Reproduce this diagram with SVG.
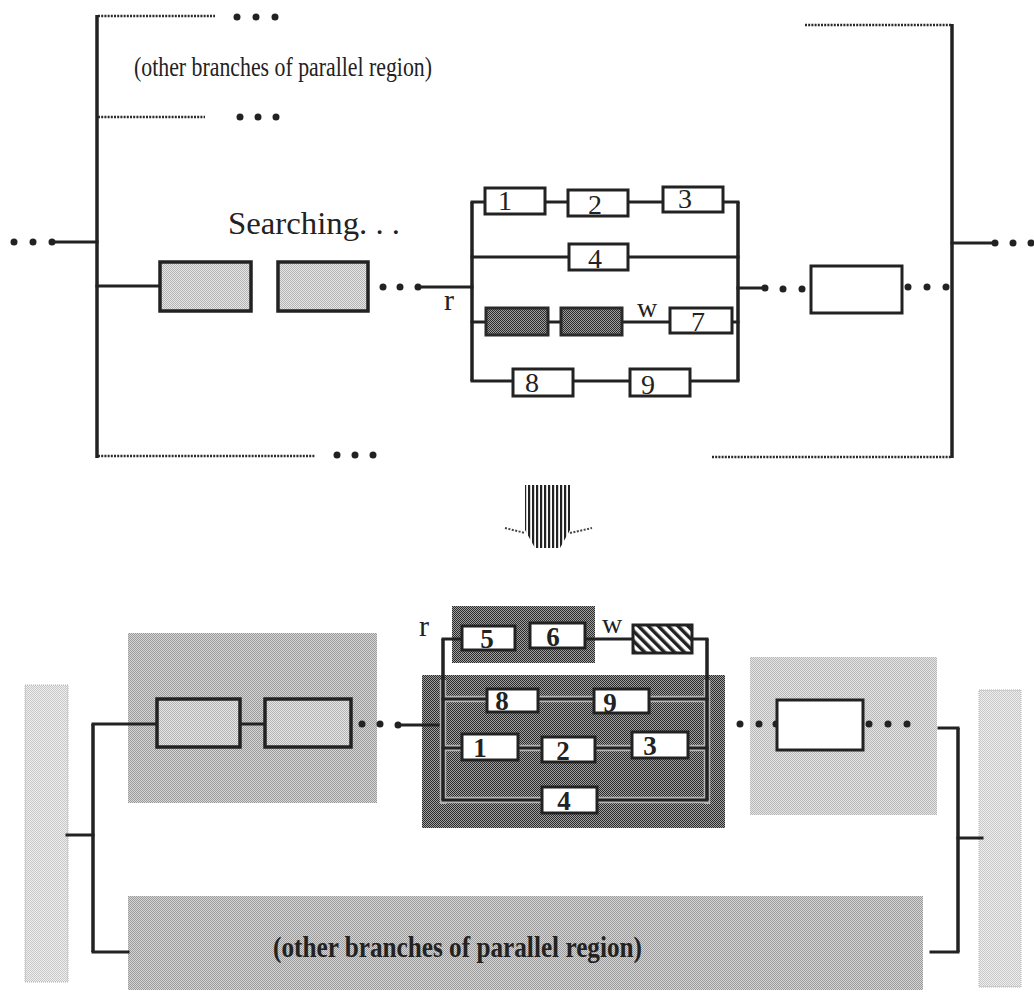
<svg xmlns="http://www.w3.org/2000/svg" width="1034" height="992" viewBox="0 0 1034 992">
<defs>
<pattern id="pDark" width="2" height="2" patternUnits="userSpaceOnUse"><rect width="2" height="2" fill="#a0a0a0"/><rect width="1" height="1" fill="#2a2a2a"/><rect x="1" y="1" width="1" height="1" fill="#2a2a2a"/></pattern>
<pattern id="pMed" width="2" height="2" patternUnits="userSpaceOnUse"><rect width="2" height="2" fill="#d6d6d6"/><rect width="1" height="1" fill="#9a9a9a"/><rect x="1" y="1" width="1" height="1" fill="#9a9a9a"/></pattern>
<pattern id="pMedL" width="2" height="2" patternUnits="userSpaceOnUse"><rect width="2" height="2" fill="#e4e4e4"/><rect width="1" height="1" fill="#b8b8b8"/><rect x="1" y="1" width="1" height="1" fill="#b8b8b8"/></pattern>
<pattern id="pLight" width="2" height="2" patternUnits="userSpaceOnUse"><rect width="2" height="2" fill="#eeeeee"/><rect width="1" height="1" fill="#c8c8c8"/><rect x="1" y="1" width="1" height="1" fill="#c8c8c8"/></pattern>
<pattern id="pBox" width="2" height="2" patternUnits="userSpaceOnUse"><rect width="2" height="2" fill="#e6e6e6"/><rect width="1" height="1" fill="#b4b4b4"/><rect x="1" y="1" width="1" height="1" fill="#b4b4b4"/></pattern>
<pattern id="pHatch" width="7" height="7" patternUnits="userSpaceOnUse" patternTransform="rotate(-45)"><rect width="7" height="7" fill="#ffffff"/><rect width="3.5" height="7" fill="#222"/></pattern>
<pattern id="pStripe" width="4" height="4" patternUnits="userSpaceOnUse"><rect width="4" height="4" fill="#ffffff"/><rect width="2.2" height="4" fill="#222"/></pattern>
<style>
.ln{stroke:#222;stroke-width:3;fill:none;stroke-linecap:square}
.bar{stroke:#222;stroke-width:3.5;fill:none}
.halo{stroke:#b4b4b4;stroke-width:6.5;fill:none}
.dot{stroke:#2a2a2a;stroke-width:2.5;stroke-dasharray:2 1.2;fill:none}
.bd{fill:#222}
.box{fill:#fff;stroke:#222;stroke-width:3}
.gbox{fill:url(#pBox);stroke:#222;stroke-width:3.5}
.dbox{fill:url(#pDark);stroke:#2a2a2a;stroke-width:3}
.num{font-family:"Liberation Serif","Times New Roman",serif;font-size:28px;fill:#222;text-anchor:middle}
.numb{font-family:"Liberation Serif","Times New Roman",serif;font-size:27px;font-weight:bold;fill:#222;text-anchor:middle}
.lbl{font-family:"Liberation Serif","Times New Roman",serif;fill:#222}
</style>
</defs>
<rect width="1034" height="992" fill="#fff"/>

<!-- ===== TOP: regions / frames ===== -->
<g id="top-frame-left">
<line class="bar" x1="97" y1="15" x2="97" y2="458"/>
<line class="dot" x1="98" y1="16" x2="215" y2="16"/>
<line class="dot" x1="98" y1="117" x2="205" y2="117"/>
<line class="dot" x1="98" y1="456" x2="315" y2="456"/>
</g>
<g id="top-frame-right">
<line class="bar" x1="952" y1="24" x2="952" y2="458"/>
<line class="dot" x1="805" y1="25" x2="951" y2="25"/>
<line class="dot" x1="712" y1="457" x2="951" y2="457"/>
</g>
<g id="top-other-branches-label">
<text class="lbl" x="134" y="76" font-size="28" textLength="298" lengthAdjust="spacingAndGlyphs">(other branches of parallel region)</text>
</g>
<g id="top-searching-label">
<text class="lbl" x="228" y="234" font-size="32" textLength="172" lengthAdjust="spacingAndGlyphs">Searching. . .</text>
</g>

<!-- ===== BOTTOM: regions ===== -->
<g id="bot-bar-left"><rect x="25" y="685" width="43" height="297" fill="url(#pLight)" stroke="#b0b0b0" stroke-width="1" stroke-dasharray="1 1"/></g>
<g id="bot-bar-right"><rect x="979" y="690" width="42" height="297" fill="url(#pLight)" stroke="#b0b0b0" stroke-width="1" stroke-dasharray="1 1"/></g>
<g id="bot-region-left"><rect x="128" y="633" width="249" height="170" fill="url(#pMed)"/></g>
<g id="bot-region-right"><rect x="750" y="657" width="187" height="158" fill="url(#pMedL)"/></g>
<g id="bot-region-other">
<rect x="128" y="896" width="795" height="94" fill="url(#pMed)"/>
<text class="lbl" x="273" y="957" font-size="30" font-weight="bold" textLength="369" lengthAdjust="spacingAndGlyphs">(other branches of parallel region)</text>
</g>
<g id="bot-region-56"><rect x="452" y="606" width="143" height="57" fill="url(#pDark)"/></g>
<g id="bot-region-par">
<rect x="422" y="675" width="303" height="153" fill="url(#pDark)"/>
</g>

<!-- ===== CONNECTORS ===== -->
<g id="connectors">
<!-- top -->
<circle class="bd" cx="237" cy="17" r="3.5"/><circle class="bd" cx="256" cy="17" r="3.5"/><circle class="bd" cx="275" cy="17" r="3.5"/>
<circle class="bd" cx="240" cy="117" r="3.5"/><circle class="bd" cx="258" cy="117" r="3.5"/><circle class="bd" cx="276" cy="117" r="3.5"/>
<circle class="bd" cx="337" cy="455" r="3.5"/><circle class="bd" cx="355" cy="455" r="3.5"/><circle class="bd" cx="373" cy="455" r="3.5"/>
<circle class="bd" cx="14" cy="242" r="3.5"/><circle class="bd" cx="33" cy="242" r="3.5"/><circle class="bd" cx="52" cy="242" r="3.5"/>
<line class="ln" x1="52" y1="242" x2="97" y2="242"/>
<line class="ln" x1="97" y1="286" x2="160" y2="286"/>
<circle class="bd" cx="383" cy="287" r="3.5"/><circle class="bd" cx="400" cy="287" r="3.5"/><circle class="bd" cx="418" cy="287" r="3.5"/>
<line class="ln" x1="418" y1="287" x2="472" y2="287"/>
<line class="bar" x1="472" y1="202" x2="472" y2="381"/>
<line class="bar" x1="738" y1="202" x2="738" y2="381"/>
<line class="ln" x1="472" y1="202" x2="485" y2="202"/>
<line class="ln" x1="545" y1="202" x2="568" y2="202"/>
<line class="ln" x1="628" y1="202" x2="663" y2="202"/>
<line class="ln" x1="723" y1="202" x2="738" y2="202"/>
<line class="ln" x1="472" y1="257" x2="569" y2="257"/>
<line class="ln" x1="628" y1="257" x2="738" y2="257"/>
<line class="ln" x1="472" y1="322" x2="486" y2="322"/>
<line class="ln" x1="548" y1="322" x2="561" y2="322"/>
<line class="ln" x1="622" y1="322" x2="670" y2="322"/>
<line class="ln" x1="732" y1="322" x2="738" y2="322"/>
<line class="ln" x1="472" y1="381" x2="513" y2="381"/>
<line class="ln" x1="573" y1="381" x2="630" y2="381"/>
<line class="ln" x1="690" y1="381" x2="738" y2="381"/>
<line class="ln" x1="738" y1="288" x2="765" y2="288"/>
<circle class="bd" cx="765" cy="288" r="3.5"/><circle class="bd" cx="783" cy="289" r="3.5"/><circle class="bd" cx="802" cy="289" r="3.5"/>
<circle class="bd" cx="908" cy="287" r="3.5"/><circle class="bd" cx="927" cy="287" r="3.5"/><circle class="bd" cx="946" cy="287" r="3.5"/>
<line class="ln" x1="952" y1="243" x2="995" y2="243"/>
<circle class="bd" cx="995" cy="243" r="3.5"/><circle class="bd" cx="1013" cy="243" r="3.5"/><circle class="bd" cx="1031" cy="243" r="3.5"/>
<text class="lbl" x="444" y="310" font-size="30">r</text>
<text class="lbl" x="637" y="317" font-size="28">w</text>

<!-- transformation arrow -->
<polygon points="525,485 570,485 570,530 560,548 535,548 525,530" fill="url(#pStripe)"/>
<polyline points="505,528 525,533" stroke="#444" stroke-width="2" stroke-dasharray="2 1.5" fill="none"/>
<polyline points="570,533 592,528" stroke="#444" stroke-width="2" stroke-dasharray="2 1.5" fill="none"/>

<!-- bottom -->
<line class="ln" x1="67" y1="835" x2="93" y2="835"/>
<line class="bar" x1="93" y1="724" x2="93" y2="952"/>
<line class="ln" x1="93" y1="724" x2="157" y2="724"/>
<line class="ln" x1="93" y1="952" x2="128" y2="952"/>
<line class="ln" x1="240" y1="724" x2="265" y2="724"/>
<circle class="bd" cx="362" cy="724" r="3.5"/><circle class="bd" cx="380" cy="724" r="3.5"/><circle class="bd" cx="398" cy="725" r="3.5"/>
<line class="ln" x1="398" y1="725" x2="443" y2="725"/>
<!-- halos in dark region -->
<g class="halo">
<line x1="443" y1="680" x2="443" y2="804"/>
<line x1="707" y1="680" x2="707" y2="804"/>
<line x1="443" y1="699" x2="707" y2="699"/>
<line x1="443" y1="748" x2="707" y2="748"/>
<line x1="443" y1="800" x2="707" y2="800"/>
</g>
<line class="ln" x1="443" y1="639" x2="462" y2="639"/>
<line class="bar" x1="443" y1="639" x2="443" y2="800"/>
<line class="ln" x1="585" y1="639" x2="633" y2="639"/>
<line class="ln" x1="692" y1="639" x2="707" y2="639"/>
<line class="bar" x1="707" y1="639" x2="707" y2="800"/>
<line class="ln" x1="443" y1="699" x2="487" y2="699"/>
<line class="ln" x1="538" y1="699" x2="594" y2="699"/>
<line class="ln" x1="649" y1="699" x2="707" y2="699"/>
<line class="ln" x1="443" y1="748" x2="462" y2="748"/>
<line class="ln" x1="518" y1="748" x2="542" y2="748"/>
<line class="ln" x1="595" y1="748" x2="632" y2="748"/>
<line class="ln" x1="688" y1="748" x2="707" y2="748"/>
<line class="ln" x1="443" y1="800" x2="542" y2="800"/>
<line class="ln" x1="597" y1="800" x2="707" y2="800"/>
<text class="lbl" x="419" y="636" font-size="30">r</text>
<text class="lbl" x="602" y="633" font-size="28">w</text>
<circle class="bd" cx="740" cy="724" r="3.5"/><circle class="bd" cx="759" cy="724" r="3.5"/><circle class="bd" cx="776" cy="724" r="3.5"/>
<circle class="bd" cx="869" cy="724" r="3.5"/><circle class="bd" cx="888" cy="724" r="3.5"/><circle class="bd" cx="907" cy="724" r="3.5"/>
<line class="ln" x1="939" y1="728" x2="958" y2="728"/>
<line class="bar" x1="958" y1="728" x2="958" y2="952"/>
<line class="ln" x1="931" y1="952" x2="958" y2="952"/>
<line class="ln" x1="958" y1="838" x2="982" y2="838"/>
</g>

<!-- ===== TOP NODES ===== -->
<g id="t-boxA"><rect class="gbox" x="160" y="262" width="91" height="49"/></g>
<g id="t-boxB"><rect class="gbox" x="278" y="262" width="90" height="49"/></g>
<g id="t-n1"><rect class="box" x="485" y="188" width="60" height="26"/><text class="num" x="505" y="210">1</text></g>
<g id="t-n2"><rect class="box" x="568" y="190" width="60" height="26"/><text class="num" x="595" y="214">2</text></g>
<g id="t-n3"><rect class="box" x="663" y="187" width="60" height="25"/><text class="num" x="685" y="208">3</text></g>
<g id="t-n4"><rect class="box" x="569" y="244" width="59" height="26"/><text class="num" x="595" y="268">4</text></g>
<g id="t-n5"><rect class="dbox" x="486" y="308" width="62" height="27"/></g>
<g id="t-n6"><rect class="dbox" x="561" y="308" width="61" height="27"/></g>
<g id="t-n7"><rect class="box" x="670" y="308" width="62" height="25"/><text class="num" x="698" y="331">7</text></g>
<g id="t-n8"><rect class="box" x="513" y="369" width="60" height="27"/><text class="num" x="532" y="392">8</text></g>
<g id="t-n9"><rect class="box" x="630" y="369" width="60" height="27"/><text class="num" x="648" y="394">9</text></g>
<g id="t-boxC"><rect class="box" x="811" y="266" width="91" height="47" stroke-width="3.5"/></g>

<!-- ===== BOTTOM NODES ===== -->
<g id="b-boxA"><rect class="gbox" x="157" y="699" width="83" height="48"/></g>
<g id="b-boxB"><rect class="gbox" x="265" y="699" width="86" height="48"/></g>
<g id="b-n5"><rect class="box" x="462" y="626" width="53" height="24"/><text class="numb" x="487" y="648">5</text></g>
<g id="b-n6"><rect class="box" x="530" y="623" width="55" height="25"/><text class="numb" x="553" y="646">6</text></g>
<g id="b-n7"><rect x="633" y="625" width="59" height="28" fill="url(#pHatch)" stroke="#222" stroke-width="3"/></g>
<g id="b-n8"><rect class="box" x="487" y="689" width="51" height="23"/><text class="numb" x="502" y="710">8</text></g>
<g id="b-n9"><rect class="box" x="594" y="689" width="55" height="24"/><text class="numb" x="610" y="712">9</text></g>
<g id="b-n1"><rect class="box" x="462" y="734" width="56" height="26"/><text class="numb" x="480" y="757">1</text></g>
<g id="b-n2"><rect class="box" x="542" y="737" width="53" height="25"/><text class="numb" x="563" y="760">2</text></g>
<g id="b-n3"><rect class="box" x="632" y="732" width="56" height="26"/><text class="numb" x="650" y="755">3</text></g>
<g id="b-n4"><rect class="box" x="542" y="787" width="55" height="26"/><text class="numb" x="564" y="810">4</text></g>
<g id="b-boxC"><rect class="box" x="777" y="700" width="86" height="50" stroke-width="3.5"/></g>
</svg>
